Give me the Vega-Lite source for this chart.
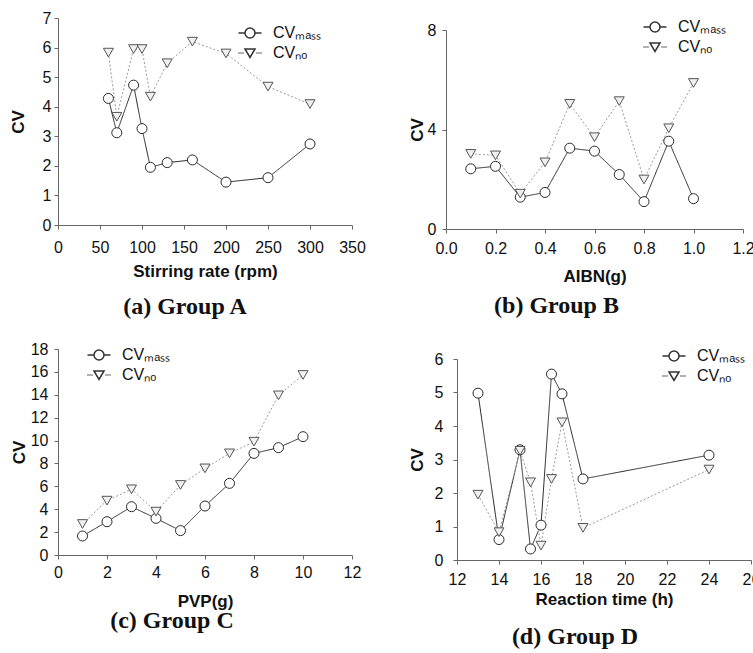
{
  "$schema": "https://vega.github.io/schema/vega-lite/v6.json",
  "background": "white",
  "padding": {"left": 9, "top": 10, "right": 0, "bottom": 5},
  "columns": 2,
  "align": "none",
  "spacing": {"row": 22, "column": 42},
  "resolve": {"scale": {"shape": "independent"}, "legend": {"shape": "independent"}},
  "concat": [
    {
      "width": 294, "height": 207,
      "title": {"text": "(a) Group A", "offset": 16, "dx": -20},
      "data": {"values": [
        {"x": 60, "cv": 4.28, "series": "CVmass"}, {"x": 70, "cv": 3.12, "series": "CVmass"}, {"x": 90, "cv": 4.73, "series": "CVmass"}, {"x": 100, "cv": 3.26, "series": "CVmass"}, {"x": 110, "cv": 1.95, "series": "CVmass"}, {"x": 130, "cv": 2.11, "series": "CVmass"}, {"x": 160, "cv": 2.2, "series": "CVmass"}, {"x": 200, "cv": 1.45, "series": "CVmass"}, {"x": 250, "cv": 1.6, "series": "CVmass"}, {"x": 300, "cv": 2.74, "series": "CVmass"},
        {"x": 60, "cv": 5.83, "series": "CVno"}, {"x": 70, "cv": 3.66, "series": "CVno"}, {"x": 90, "cv": 5.95, "series": "CVno"}, {"x": 100, "cv": 5.95, "series": "CVno"}, {"x": 110, "cv": 4.34, "series": "CVno"}, {"x": 130, "cv": 5.47, "series": "CVno"}, {"x": 160, "cv": 6.2, "series": "CVno"}, {"x": 200, "cv": 5.8, "series": "CVno"}, {"x": 250, "cv": 4.68, "series": "CVno"}, {"x": 300, "cv": 4.09, "series": "CVno"}
      ]},
      "encoding": {
        "x": {"field": "x", "type": "quantitative", "scale": {"domain": [0, 350], "nice": false}, "axis": {"values": [0, 50, 100, 150, 200, 250, 300, 350], "title": "Stirring rate (rpm)", "labelPadding": 10, "titlePadding": 8}},
        "y": {"field": "cv", "type": "quantitative", "scale": {"domain": [0, 7], "nice": false}, "axis": {"values": [0, 1, 2, 3, 4, 5, 6, 7], "title": "CV", "titlePadding": 15, "labelPadding": 3}}
      },
      "resolve": {"scale": {"shape": "independent"}, "legend": {"shape": "independent"}},
      "layer": [
        {"mark": {"type": "line", "strokeWidth": 1},
         "encoding": {
           "detail": {"field": "series", "type": "nominal"},
           "color": {"condition": {"test": "datum.series == 'CVmass'", "value": "#2a2a2a"}, "value": "#9a9a9a"},
           "strokeDash": {"condition": {"test": "datum.series == 'CVmass'", "value": [1, 0]}, "value": [2, 2]}
         }},
        {"mark": {"type": "point", "filled": true, "size": 100, "opacity": 1, "strokeWidth": 1},
         "encoding": {
           "fill": {"condition": {"test": "datum.series == 'CVmass'", "value": "#ffffff"}, "value": "#f0f0f0"},
           "stroke": {"condition": {"test": "datum.series == 'CVmass'", "value": "#2a2a2a"}, "value": "#555555"},
           "shape": {"field": "series", "type": "nominal", "scale": {"domain": ["CVmass", "CVno"], "range": ["circle", "triangle-down"]}, "legend": null}
         }},
        {"transform": [{"filter": "false"}],
         "mark": {"type": "point", "filled": true, "fill": "#ffffff", "stroke": "#333333", "size": 100, "opacity": 1, "strokeWidth": 1},
         "encoding": {
           "shape": {"field": "series", "type": "nominal", "scale": {"domain": ["CVmass", "CVno"], "range": ["M-2.3,0L-1,0M1,0L2.3,0M-1,0A1,1,0,1,1,1,0A1,1,0,1,1,-1,0Z", "M-1,-0.8L1,-0.8L0,0.9ZM-2.3,0L-2.1,0M-1.9,0L-1.7,0M-1.5,0L-1.3,0M1.3,0L1.5,0M1.7,0L1.9,0M2.1,0L2.3,0"]},
             "legend": {"orient": "none", "legendX": 184, "legendY": 7, "title": null, "labelExpr": "datum.value == 'CVmass' ? 'CVₘₐₛₛ' : 'CVₙₒ'"}}
         }}
      ]
    },
    {
      "spacing": 0,
      "resolve": {"scale": {"shape": "independent"}, "legend": {"shape": "independent"}},
      "vconcat": [
        {"width": 1, "height": 1, "data": {"values": []}, "mark": "point", "encoding": {}},
        {
          "width": 297, "height": 199,
          "title": {"text": "(b) Group B", "offset": 10, "dx": -38},
          "data": {"values": [
            {"x": 0.1, "cv": 2.42, "series": "CVmass"}, {"x": 0.2, "cv": 2.52, "series": "CVmass"}, {"x": 0.3, "cv": 1.28, "series": "CVmass"}, {"x": 0.4, "cv": 1.47, "series": "CVmass"}, {"x": 0.5, "cv": 3.25, "series": "CVmass"}, {"x": 0.6, "cv": 3.13, "series": "CVmass"}, {"x": 0.7, "cv": 2.19, "series": "CVmass"}, {"x": 0.8, "cv": 1.1, "series": "CVmass"}, {"x": 0.9, "cv": 3.53, "series": "CVmass"}, {"x": 1.0, "cv": 1.22, "series": "CVmass"},
            {"x": 0.1, "cv": 3.02, "series": "CVno"}, {"x": 0.2, "cv": 2.96, "series": "CVno"}, {"x": 0.3, "cv": 1.42, "series": "CVno"}, {"x": 0.4, "cv": 2.68, "series": "CVno"}, {"x": 0.5, "cv": 5.03, "series": "CVno"}, {"x": 0.6, "cv": 3.69, "series": "CVno"}, {"x": 0.7, "cv": 5.14, "series": "CVno"}, {"x": 0.8, "cv": 1.99, "series": "CVno"}, {"x": 0.9, "cv": 4.05, "series": "CVno"}, {"x": 1.0, "cv": 5.87, "series": "CVno"}
          ]},
          "encoding": {
            "x": {"field": "x", "type": "quantitative", "scale": {"domain": [0, 1.2], "nice": false}, "axis": {"values": [0, 0.2, 0.4, 0.6, 0.8, 1.0, 1.2], "format": ".1f", "title": "AIBN(g)", "labelPadding": 7, "titlePadding": 12}},
            "y": {"field": "cv", "type": "quantitative", "scale": {"domain": [0, 8], "nice": false}, "axis": {"values": [0, 4, 8], "title": "CV", "titlePadding": 1, "labelPadding": 6}}
          },
          "resolve": {"scale": {"shape": "independent"}, "legend": {"shape": "independent"}},
          "layer": [
            {"mark": {"type": "line", "strokeWidth": 1},
             "encoding": {
               "detail": {"field": "series", "type": "nominal"},
               "color": {"condition": {"test": "datum.series == 'CVmass'", "value": "#2a2a2a"}, "value": "#9a9a9a"},
               "strokeDash": {"condition": {"test": "datum.series == 'CVmass'", "value": [1, 0]}, "value": [2, 2]}
             }},
            {"mark": {"type": "point", "filled": true, "size": 100, "opacity": 1, "strokeWidth": 1},
             "encoding": {
               "fill": {"condition": {"test": "datum.series == 'CVmass'", "value": "#ffffff"}, "value": "#f0f0f0"},
               "stroke": {"condition": {"test": "datum.series == 'CVmass'", "value": "#2a2a2a"}, "value": "#555555"},
               "shape": {"field": "series", "type": "nominal", "scale": {"domain": ["CVmass", "CVno"], "range": ["circle", "triangle-down"]}, "legend": null}
             }},
            {"transform": [{"filter": "false"}],
             "mark": {"type": "point", "filled": true, "fill": "#ffffff", "stroke": "#333333", "size": 100, "opacity": 1, "strokeWidth": 1},
             "encoding": {
               "shape": {"field": "series", "type": "nominal", "scale": {"domain": ["CVmass", "CVno"], "range": ["M-2.3,0L-1,0M1,0L2.3,0M-1,0A1,1,0,1,1,1,0A1,1,0,1,1,-1,0Z", "M-1,-0.8L1,-0.8L0,0.9ZM-2.3,0L-2.1,0M-1.9,0L-1.7,0M-1.5,0L-1.3,0M1.3,0L1.5,0M1.7,0L1.9,0M2.1,0L2.3,0"]},
                 "legend": {"orient": "none", "legendX": 201, "legendY": -11, "title": null, "labelExpr": "datum.value == 'CVmass' ? 'CVₘₐₛₛ' : 'CVₙₒ'"}}
             }}
          ]
        }
      ]
    },
    {
      "width": 294, "height": 206,
      "title": {"text": "(c) Group C", "offset": 0, "dx": -33},
      "data": {"values": [
        {"x": 1, "cv": 1.66, "series": "CVmass"}, {"x": 2, "cv": 2.91, "series": "CVmass"}, {"x": 3, "cv": 4.22, "series": "CVmass"}, {"x": 4, "cv": 3.2, "series": "CVmass"}, {"x": 5, "cv": 2.13, "series": "CVmass"}, {"x": 6, "cv": 4.28, "series": "CVmass"}, {"x": 7, "cv": 6.26, "series": "CVmass"}, {"x": 8, "cv": 8.88, "series": "CVmass"}, {"x": 9, "cv": 9.38, "series": "CVmass"}, {"x": 10, "cv": 10.34, "series": "CVmass"},
        {"x": 1, "cv": 2.71, "series": "CVno"}, {"x": 2, "cv": 4.75, "series": "CVno"}, {"x": 3, "cv": 5.74, "series": "CVno"}, {"x": 4, "cv": 3.79, "series": "CVno"}, {"x": 5, "cv": 6.12, "series": "CVno"}, {"x": 6, "cv": 7.57, "series": "CVno"}, {"x": 7, "cv": 8.88, "series": "CVno"}, {"x": 8, "cv": 9.9, "series": "CVno"}, {"x": 9, "cv": 13.95, "series": "CVno"}, {"x": 10, "cv": 15.73, "series": "CVno"}
      ]},
      "encoding": {
        "x": {"field": "x", "type": "quantitative", "scale": {"domain": [0, 12], "nice": false}, "axis": {"values": [0, 2, 4, 6, 8, 10, 12], "title": "PVP(g)", "labelPadding": 5, "titlePadding": 13}},
        "y": {"field": "cv", "type": "quantitative", "scale": {"domain": [0, 18], "nice": false}, "axis": {"values": [0, 2, 4, 6, 8, 10, 12, 14, 16, 18], "title": "CV", "titlePadding": 2, "labelPadding": 6}}
      },
      "resolve": {"scale": {"shape": "independent"}, "legend": {"shape": "independent"}},
      "layer": [
        {"mark": {"type": "line", "strokeWidth": 1},
         "encoding": {
           "detail": {"field": "series", "type": "nominal"},
           "color": {"condition": {"test": "datum.series == 'CVmass'", "value": "#2a2a2a"}, "value": "#9a9a9a"},
           "strokeDash": {"condition": {"test": "datum.series == 'CVmass'", "value": [1, 0]}, "value": [2, 2]}
         }},
        {"mark": {"type": "point", "filled": true, "size": 100, "opacity": 1, "strokeWidth": 1},
         "encoding": {
           "fill": {"condition": {"test": "datum.series == 'CVmass'", "value": "#ffffff"}, "value": "#f0f0f0"},
           "stroke": {"condition": {"test": "datum.series == 'CVmass'", "value": "#2a2a2a"}, "value": "#555555"},
           "shape": {"field": "series", "type": "nominal", "scale": {"domain": ["CVmass", "CVno"], "range": ["circle", "triangle-down"]}, "legend": null}
         }},
        {"transform": [{"filter": "false"}],
         "mark": {"type": "point", "filled": true, "fill": "#ffffff", "stroke": "#333333", "size": 100, "opacity": 1, "strokeWidth": 1},
         "encoding": {
           "shape": {"field": "series", "type": "nominal", "scale": {"domain": ["CVmass", "CVno"], "range": ["M-2.3,0L-1,0M1,0L2.3,0M-1,0A1,1,0,1,1,1,0A1,1,0,1,1,-1,0Z", "M-1,-0.8L1,-0.8L0,0.9ZM-2.3,0L-2.1,0M-1.9,0L-1.7,0M-1.5,0L-1.3,0M1.3,0L1.5,0M1.7,0L1.9,0M2.1,0L2.3,0"]},
             "legend": {"orient": "none", "legendX": 33, "legendY": -2, "title": null, "labelExpr": "datum.value == 'CVmass' ? 'CVₘₐₛₛ' : 'CVₙₒ'"}}
         }}
      ]
    },
    {
      "spacing": 6,
      "resolve": {"scale": {"shape": "independent"}, "legend": {"shape": "independent"}},
      "vconcat": [
        {"width": 1, "height": 1, "data": {"values": []}, "mark": "point", "encoding": {}},
        {
          "width": 294, "height": 201,
          "title": {"text": "(d)  Group D", "offset": 18, "dx": -29},
          "data": {"values": [
            {"x": 13, "cv": 4.98, "series": "CVmass"}, {"x": 14, "cv": 0.61, "series": "CVmass"}, {"x": 15, "cv": 3.29, "series": "CVmass"}, {"x": 15.5, "cv": 0.33, "series": "CVmass"}, {"x": 16, "cv": 1.04, "series": "CVmass"}, {"x": 16.5, "cv": 5.55, "series": "CVmass"}, {"x": 17, "cv": 4.96, "series": "CVmass"}, {"x": 18, "cv": 2.42, "series": "CVmass"}, {"x": 24, "cv": 3.13, "series": "CVmass"},
            {"x": 13, "cv": 1.95, "series": "CVno"}, {"x": 14, "cv": 0.83, "series": "CVno"}, {"x": 15, "cv": 3.26, "series": "CVno"}, {"x": 15.5, "cv": 2.32, "series": "CVno"}, {"x": 16, "cv": 0.43, "series": "CVno"}, {"x": 16.5, "cv": 2.42, "series": "CVno"}, {"x": 17, "cv": 4.11, "series": "CVno"}, {"x": 18, "cv": 0.96, "series": "CVno"}, {"x": 24, "cv": 2.7, "series": "CVno"}
          ]},
          "encoding": {
            "x": {"field": "x", "type": "quantitative", "scale": {"domain": [12, 26], "nice": false, "zero": false}, "axis": {"values": [12, 14, 16, 18, 20, 22, 24, 26], "title": "Reaction time (h)", "labelPadding": 7, "titlePadding": 4}},
            "y": {"field": "cv", "type": "quantitative", "scale": {"domain": [0, 6], "nice": false}, "axis": {"values": [0, 1, 2, 3, 4, 5, 6], "title": "CV", "titlePadding": 8, "labelPadding": 10}}
          },
          "resolve": {"scale": {"shape": "independent"}, "legend": {"shape": "independent"}},
          "layer": [
            {"mark": {"type": "line", "strokeWidth": 1},
             "encoding": {
               "detail": {"field": "series", "type": "nominal"},
               "color": {"condition": {"test": "datum.series == 'CVmass'", "value": "#2a2a2a"}, "value": "#9a9a9a"},
               "strokeDash": {"condition": {"test": "datum.series == 'CVmass'", "value": [1, 0]}, "value": [2, 2]}
             }},
            {"mark": {"type": "point", "filled": true, "size": 100, "opacity": 1, "strokeWidth": 1},
             "encoding": {
               "fill": {"condition": {"test": "datum.series == 'CVmass'", "value": "#ffffff"}, "value": "#f0f0f0"},
               "stroke": {"condition": {"test": "datum.series == 'CVmass'", "value": "#2a2a2a"}, "value": "#555555"},
               "shape": {"field": "series", "type": "nominal", "scale": {"domain": ["CVmass", "CVno"], "range": ["circle", "triangle-down"]}, "legend": null}
             }},
            {"transform": [{"filter": "false"}],
             "mark": {"type": "point", "filled": true, "fill": "#ffffff", "stroke": "#333333", "size": 100, "opacity": 1, "strokeWidth": 1},
             "encoding": {
               "shape": {"field": "series", "type": "nominal", "scale": {"domain": ["CVmass", "CVno"], "range": ["M-2.3,0L-1,0M1,0L2.3,0M-1,0A1,1,0,1,1,1,0A1,1,0,1,1,-1,0Z", "M-1,-0.8L1,-0.8L0,0.9ZM-2.3,0L-2.1,0M-1.9,0L-1.7,0M-1.5,0L-1.3,0M1.3,0L1.5,0M1.7,0L1.9,0M2.1,0L2.3,0"]},
                 "legend": {"orient": "none", "legendX": 209, "legendY": -11, "title": null, "labelExpr": "datum.value == 'CVmass' ? 'CVₘₐₛₛ' : 'CVₙₒ'"}}
             }}
          ]
        }
      ]
    }
  ],
  "config": {
    "view": {"stroke": null},
    "axis": {
      "grid": false, "domainColor": "#666666", "tickColor": "#666666", "tickSize": 4, "labelFlush": false,
      "labelFont": "Liberation Sans", "labelFontSize": 16, "labelColor": "#111111", "labelPadding": 5,
      "titleFont": "Liberation Sans", "titleFontSize": 17, "titleFontWeight": "bold", "titleColor": "#111111"
    },
    "legend": {"labelFont": "Liberation Sans", "labelFontSize": 16, "labelColor": "#111111", "symbolSize": 100, "labelOffset": 15, "rowPadding": 4, "padding": 0},
    "title": {"font": "Liberation Serif", "fontSize": 24, "fontWeight": "bold", "orient": "bottom", "color": "#111111", "anchor": "middle", "frame": "group"}
  }
}
